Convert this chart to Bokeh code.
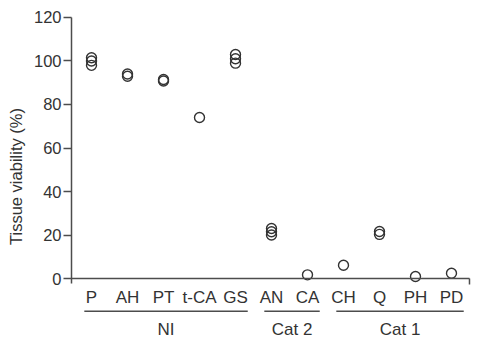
from bokeh.plotting import figure
from bokeh.models import Range1d, FixedTicker
from bokeh.core.properties import value
from bokeh.embed import file_html
from bokeh.resources import INLINE

# ---- data ----
categories = ["P", "AH", "PT", "t-CA", "GS", "AN", "CA", "CH", "Q", "PH", "PD"]
viability = [
    [101.5, 100.0, 98.0],   # P
    [94.0, 93.0],           # AH
    [91.5, 90.8],           # PT
    [74.0],                 # t-CA
    [103.0, 101.0, 99.0],   # GS
    [23.0, 21.5, 20.0],     # AN
    [1.7],                  # CA
    [6.1],                  # CH
    [21.6, 20.3],           # Q
    [0.9],                  # PH
    [2.4],                  # PD
]
groups = ["NI", "Cat 2", "Cat 1"]
group_first = [0, 5, 7]
group_last = [4, 6, 10]
y_ticks = [0, 20, 40, 60, 80, 100, 120]

FONT = "Liberation Sans"
INK = "#333333"
AXIS = "#4d4d4d"

p = figure(width=484, height=352, output_backend="svg", toolbar_location=None,
           x_range=Range1d(-0.556, 10.917), y_range=Range1d(-34.0, 127.8),
           min_border_left=71, min_border_right=0, min_border_top=0, min_border_bottom=0)
p.outline_line_color = None
p.grid.visible = False
p.xaxis.visible = False

ya = p.yaxis[0]
ya.ticker = FixedTicker(ticks=y_ticks)
ya.bounds = (-2.3, 120)
ya.axis_line_color = AXIS
ya.axis_line_width = 1.5
ya.major_tick_line_color = AXIS
ya.major_tick_line_width = 1.5
ya.major_tick_out = 8
ya.major_tick_in = 0
ya.minor_tick_line_color = None
ya.major_label_text_font = FONT
ya.major_label_text_font_size = "16.5px"
ya.major_label_text_color = INK
ya.major_label_standoff = 2
ya.axis_label = "Tissue viability (%)"
ya.axis_label_text_font = FONT
ya.axis_label_text_font_size = "16.5px"
ya.axis_label_text_font_style = "normal"
ya.axis_label_text_color = INK
ya.axis_label_standoff = 6

# points
xs, ys = [], []
for i, vals in enumerate(viability):
    for v in vals:
        xs.append(i)
        ys.append(v)
p.scatter(xs, ys, marker="circle", size=10, fill_color=None,
          line_color=INK, line_width=1.4)

# x "axis" line at y=0 with end tick
x0 = p.x_range.start
x1 = len(categories) - 0.5
p.segment(x0=[x0, x1], y0=[0, 0], x1=[x1, x1], y1=[0, -2.8],
          line_color=AXIS, line_width=1.5)

# category labels
p.text(x=list(range(len(categories))), y=[-8.7] * len(categories), text=categories,
       text_font=value(FONT), text_font_size="17px", text_color=INK,
       text_align="center", text_baseline="middle")

# group underlines + labels
gx0 = [f - 0.2 for f in group_first]
gx1 = [l + 0.34 for l in group_last]
p.segment(x0=gx0, y0=[-15.0] * 3, x1=gx1, y1=[-15.0] * 3,
          line_color=AXIS, line_width=1.5)
p.text(x=[(a + b) / 2 for a, b in zip(gx0, gx1)], y=[-23.5] * 3, text=groups,
       text_font=value(FONT), text_font_size="17px", text_color=INK,
       text_align="center", text_baseline="middle")

open("out.html", "w").write(file_html(p, INLINE))
